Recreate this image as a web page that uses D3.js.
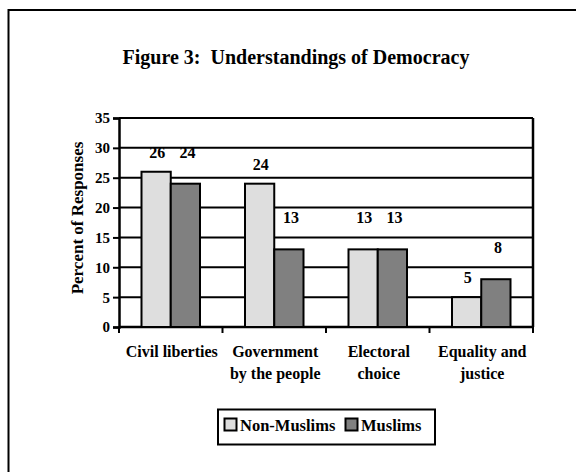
<!DOCTYPE html>
<html><head><meta charset="utf-8">
<script src="https://cdn.jsdelivr.net/npm/d3@7"></script>
<style>
html,body{margin:0;padding:0;background:#fff;}
svg{display:block;}
svg text{font-family:"Liberation Serif","Times New Roman",serif;font-weight:bold;fill:#000;}
</style></head>
<body>
<svg id="c" width="576" height="472"></svg>
<script>
const categories = [["Civil liberties"], ["Government", "by the people"], ["Electoral", "choice"], ["Equality and", "justice"]];
const seriesNames = ["Non-Muslims", "Muslims"];
const nonMuslims = [26, 24, 13, 5];
const muslims = [24, 13, 13, 8];
const yTicks = [0, 5, 10, 15, 20, 25, 30, 35];
const colors = ["#dedede", "#808080"];

const svg = d3.select("#c");
svg.append("rect").attr("x", 8.5).attr("y", 10).attr("width", 600).attr("height", 500)
  .attr("fill", "none").attr("stroke", "#000").attr("stroke-width", 2);

svg.append("text").attr("x", 296).attr("y", 64).attr("text-anchor", "middle")
  .attr("font-size", 20).style("white-space", "pre").attr("xml:space", "preserve")
  .text("Figure 3:  Understandings of Democracy");

const L = 119, R = 533, T = 118, B = 327;
const x0 = d3.scaleBand().domain(d3.range(categories.length)).range([L, R]).paddingInner(0).paddingOuter(0);
const x1 = d3.scaleBand().domain([0, 1]).range([22.5, x0.bandwidth() - 22.5]).padding(0);
const y = d3.scaleLinear().domain([0, 35]).range([B, T]);

svg.append("g").selectAll("line").data(yTicks).join("line")
  .attr("x1", L).attr("x2", R).attr("y1", d => y(d)).attr("y2", d => y(d))
  .attr("stroke", "#000").attr("stroke-width", 2);

const yAxis = svg.append("g").attr("transform", `translate(${L},0)`)
  .call(d3.axisLeft(y).tickValues(yTicks).tickSize(6).tickPadding(3));
yAxis.attr("font-family", null).attr("font-size", null);
yAxis.select(".domain").attr("stroke-width", 2.5);
yAxis.selectAll(".tick line").attr("stroke-width", 2);
yAxis.selectAll(".tick text").attr("font-size", 15).attr("dy", "0.33em");

const xAxisG = svg.append("g").attr("transform", `translate(0,${B})`);
xAxisG.append("line").attr("x1", L).attr("x2", R + 1).attr("stroke", "#000").attr("stroke-width", 2.5);
xAxisG.selectAll("line.tk").data(d3.range(categories.length + 1)).join("line").attr("class", "tk")
  .attr("x1", i => L + i * x0.step()).attr("x2", i => L + i * x0.step())
  .attr("y1", 0).attr("y2", 6).attr("stroke", "#000").attr("stroke-width", 2);
svg.append("line").attr("x1", R).attr("x2", R).attr("y1", T).attr("y2", B)
  .attr("stroke", "#000").attr("stroke-width", 2.5);

const data = categories.map((c, i) => [nonMuslims[i], muslims[i]]);
const groups = svg.append("g").selectAll("g").data(data).join("g")
  .attr("transform", (d, i) => `translate(${x0(i)},0)`);
groups.selectAll("rect").data(d => d).join("rect")
  .attr("x", (d, j) => x1(j)).attr("width", x1.bandwidth())
  .attr("y", d => y(d)).attr("height", d => B - y(d))
  .attr("fill", (d, j) => colors[j]).attr("stroke", "#000").attr("stroke-width", 2);

groups.each(function(d) {
  const g = d3.select(this);
  d.forEach((v, j) => {
    const same = d[0] === d[1];
    const off = (j === 1 || same) ? 31 : 19;
    g.append("text").attr("x", x1(j) + x1.bandwidth() / 2 + (j === 0 ? 1 : 2))
      .attr("y", y(v) - off + 5).attr("text-anchor", "middle").attr("font-size", 16).text(v);
  });
});

svg.append("g").selectAll("text").data(categories).join("text")
  .attr("x", (d, i) => x0(i) + x0.bandwidth() / 2 + 1).attr("y", 357)
  .attr("text-anchor", "middle").attr("font-size", 16)
  .each(function(lines) {
    d3.select(this).selectAll("tspan").data(lines).join("tspan")
      .attr("x", d3.select(this).attr("x")).attr("dy", (l, k) => k === 0 ? 0 : 22).text(l => l);
  });

svg.append("text").attr("transform", "translate(83,218) rotate(-90)")
  .attr("text-anchor", "middle").attr("font-size", 17).text("Percent of Responses");

const lg = svg.append("g");
lg.append("rect").attr("x", 218).attr("y", 409.5).attr("width", 217).attr("height", 35)
  .attr("fill", "#fff").attr("stroke", "#000").attr("stroke-width", 2);
const legX = [224, 345];
seriesNames.forEach((n, j) => {
  lg.append("rect").attr("x", legX[j] + 0.5).attr("y", 418.5).attr("width", 12).attr("height", 12)
    .attr("fill", colors[j]).attr("stroke", "#000").attr("stroke-width", 2);
  lg.append("text").attr("x", legX[j] + 16).attr("y", 431).attr("font-size", 16.5).text(n);
});
</script>
</body></html>
